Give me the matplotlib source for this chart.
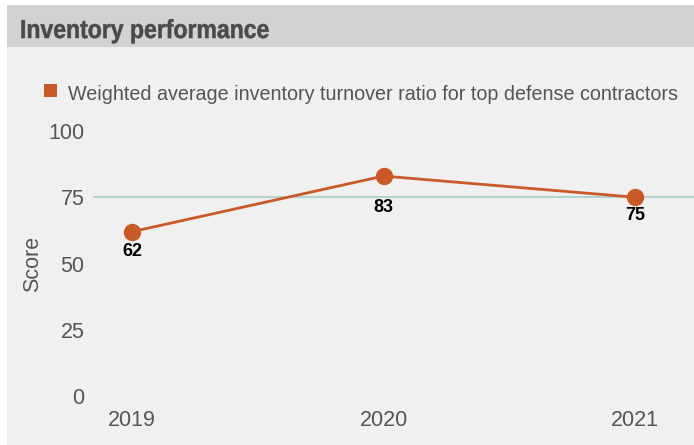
import matplotlib.pyplot as plt
from matplotlib.patches import Rectangle, PathPatch
from matplotlib.textpath import TextPath
from matplotlib.font_manager import FontProperties
from matplotlib.transforms import Affine2D

years = [2019, 2020, 2021]
scores = [62, 83, 75]
label_drop = [14, 23, 13]  # points below each marker for the value label
yticks = [0, 25, 50, 75, 100]
target = 75
title = "Inventory performance"
series_name = "Weighted average inventory turnover ratio for top defense contractors"

orange = "#c95a28"
grey_txt = "#555555"

plt.rcParams['font.family'] = ['Liberation Sans', 'DejaVu Sans']

fig = plt.figure(figsize=(6.94, 4.45), dpi=100)
fig.patch.set_facecolor("white")

# background panels: title band + body
fig.patches.append(Rectangle((7 / 694, 0), 1 - 7 / 694, 1 - 47 / 445,
                             transform=fig.transFigure, facecolor="#f0f0f0",
                             edgecolor="none", zorder=-10))
fig.patches.append(Rectangle((7 / 694, 1 - 47 / 445), 1 - 7 / 694, 42 / 445,
                             transform=fig.transFigure, facecolor="#d1d2d4",
                             edgecolor="none", zorder=-10))

# condensed bold title: squeeze a text path horizontally (pixel coords)
tp = TextPath((0, 0), title, size=26, prop=FontProperties(family="Liberation Sans", weight="bold"))
squeeze = Affine2D().scale(0.885, 1.0).translate(20, 445 - 38)
fig.patches.append(PathPatch(squeeze.transform_path(tp), facecolor="#4a4a4c",
                             edgecolor="#4a4a4c", lw=0.4, transform=None, zorder=-5))

ax = fig.add_axes([93 / 694, 1 - 396 / 445, 1 - 93 / 694, (396 - 131) / 445])
ax.set_facecolor("none")
ax.axhline(target, color="#b4d2ce", lw=1.5, zorder=1)
ax.plot(years, scores, color=orange, lw=2, marker="o", markersize=11.5,
        zorder=3, clip_on=False, label=series_name)
for x, y, d in zip(years, scores, label_drop):
    ax.annotate(str(y), (x, y), xytext=(0, -d), textcoords="offset points",
                ha="center", va="center", fontsize=13, fontweight="bold",
                color="black")

ax.set_xlim(2019 - 39 / 251.5, 2021 + 59 / 251.5)
ax.set_ylim(0, 100)
ax.set_yticks(yticks)
ax.set_xticks(years)
ax.tick_params(length=0, labelsize=15.5, labelcolor=grey_txt)
ax.tick_params(axis="y", pad=6)
ax.tick_params(axis="x", pad=10)
for s in ax.spines.values():
    s.set_visible(False)
ax.set_ylabel("Score", fontsize=15.5, color=grey_txt, labelpad=4)

# legend: single series entry
fig.patches.append(Rectangle((44 / 694, 1 - 97 / 445), 13 / 694, 13 / 445,
                             transform=fig.transFigure, facecolor=orange,
                             edgecolor="none"))
fig.text(68 / 694, 1 - 95 / 445, series_name, fontsize=14.2, color=grey_txt,
         ha="left", va="center")

plt.savefig("out.png", dpi=100)
